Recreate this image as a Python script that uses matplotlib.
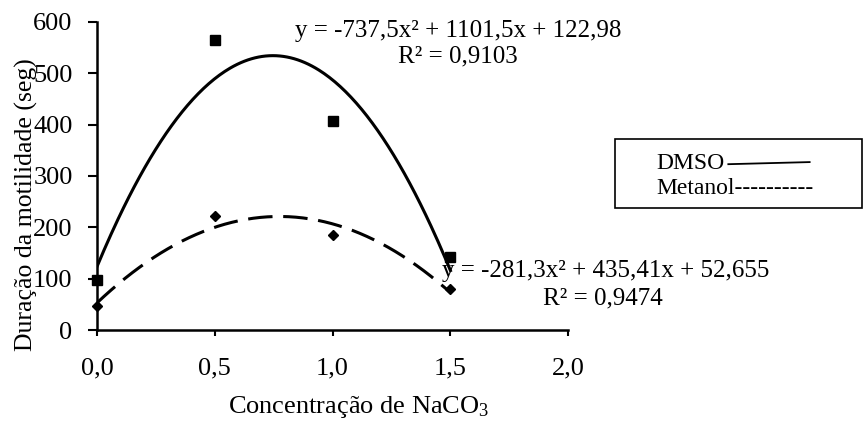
import numpy as np
import matplotlib.pyplot as plt

plt.rcParams['font.family'] = ['Liberation Serif', 'DejaVu Serif']
plt.rcParams['mathtext.fontset'] = 'custom'
plt.rcParams['mathtext.rm'] = 'Liberation Serif'
plt.rcParams['mathtext.default'] = 'regular'

# NaCO3 concentration and motility duration (s)
conc = [0.0, 0.5, 1.0, 1.5]
dmso = [97, 565, 407, 143]
metanol = [46, 222, 185, 80]

# quadratic trend lines
dmso_fit = [-737.5, 1101.5, 122.98]
metanol_fit = [-281.3, 435.41, 52.655]

x_ticks = [0.0, 0.5, 1.0, 1.5, 2.0]
x_ticklabels = ['0,0', '0,5', '1,0', '1,5', '2,0']
y_ticks = [0, 100, 200, 300, 400, 500, 600]

fig = plt.figure(figsize=(8.65, 4.21), dpi=100)
ax = fig.add_axes([0.112, 0.216, 0.545, 0.732])

xs = np.linspace(0, 1.5, 200)
ax.plot(xs, np.polyval(dmso_fit, xs), color='black', lw=2.2)
ax.plot(xs, np.polyval(metanol_fit, xs), color='black', lw=2.2,
        dashes=(8, 3.5))
ax.plot(conc, dmso, 's', color='black', ms=6.5, clip_on=False)
ax.plot(conc, metanol, 'D', color='black', ms=5, clip_on=False)

ax.set_xlim(0, 2.0)
ax.set_ylim(0, 600)
ax.set_xticks(x_ticks)
ax.set_xticklabels(x_ticklabels)
ax.set_yticks(y_ticks)
ax.tick_params(labelsize=19, width=1.5, direction='out')
ax.tick_params(axis='x', length=4.5, pad=15)
ax.tick_params(axis='y', length=6.5, pad=11)
for s in ['top', 'right']:
    ax.spines[s].set_visible(False)
for s in ['left', 'bottom']:
    ax.spines[s].set_linewidth(1.8)

fig.text(0.031, 0.513, 'Duração da motilidade (seg)', rotation=90,
         ha='center', va='center', fontsize=18.5)
fig.text(0.414, 0.018, 'Concentração de NaCO$_3$', ha='center',
         va='baseline', fontsize=19)

# equation annotations
fig.text(0.341, 0.926, 'y = -737,5x² + 1101,5x + 122,98', ha='left',
         va='center', fontsize=18)
fig.text(0.460, 0.867, 'R² = 0,9103', ha='left', va='center', fontsize=18)
fig.text(0.511, 0.356, 'y = -281,3x² + 435,41x + 52,655', ha='left',
         va='center', fontsize=18)
fig.text(0.628, 0.292, 'R² = 0,9474', ha='left', va='center', fontsize=18)

# hand-made legend box
box = plt.Rectangle((0.711, 0.506), 0.285, 0.164, transform=fig.transFigure,
                    fill=False, lw=1.2, color='black')
fig.patches.append(box)
fig.text(0.759, 0.612, 'DMSO', ha='left', va='center', fontsize=17)
fig.add_artist(plt.Line2D([0.842, 0.936], [0.610, 0.615],
                          transform=fig.transFigure, color='black', lw=1.3))
fig.text(0.759, 0.553, 'Metanol----------', ha='left', va='center',
         fontsize=17)

fig.savefig('out.png', dpi=100)
